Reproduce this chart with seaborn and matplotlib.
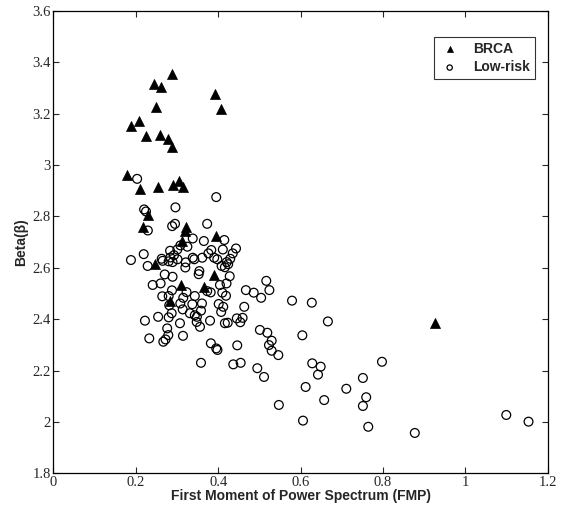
import pandas as pd
import numpy as np
import seaborn as sns
import matplotlib.pyplot as plt

# data
brca_fmp = [0.287, 0.244, 0.261, 0.392, 0.406, 0.248, 0.2075, 0.187, 0.224, 0.258,
            0.277, 0.288, 0.179, 0.210, 0.254, 0.291, 0.305, 0.314, 0.230, 0.2165,
            0.3216, 0.319, 0.394, 0.311, 0.246, 0.389, 0.309, 0.366, 0.2836, 0.926]
brca_beta = [3.354, 3.317, 3.302, 3.275, 3.219, 3.227, 3.171, 3.150, 3.111, 3.116,
             3.102, 3.071, 2.960, 2.905, 2.915, 2.922, 2.939, 2.913, 2.804, 2.757,
             2.760, 2.743, 2.724, 2.705, 2.613, 2.572, 2.533, 2.526, 2.469, 2.384]

low_fmp = [0.203, 0.395, 0.296, 0.220, 0.2245, 0.229, 0.288, 0.295, 0.373, 0.338,
           0.365, 0.4146, 0.325, 0.443, 0.411, 0.3006, 0.283, 0.383, 0.376, 0.435,
           0.2925, 0.219, 0.188, 0.390, 0.3976, 0.429, 0.361, 0.338, 0.3418, 0.301,
           0.2836, 0.2626, 0.265, 0.2796, 0.289, 0.2286, 0.321, 0.320, 0.424, 0.408,
           0.416, 0.354, 0.3524, 0.270, 0.4277, 0.5165, 0.260, 0.2408, 0.289, 0.404,
           0.467, 0.524, 0.486, 0.504, 0.579, 0.2876, 0.3815, 0.373, 0.4097, 0.264,
           0.323, 0.343, 0.4187, 0.2796, 0.315, 0.281, 0.3078, 0.337, 0.3604, 0.401,
           0.412, 0.463, 0.2869, 0.3136, 0.331, 0.358, 0.407, 0.343, 0.348, 0.254,
           0.2796, 0.445, 0.459, 0.222, 0.3476, 0.380, 0.307, 0.416, 0.4228, 0.4534,
           0.3556, 0.276, 0.501, 0.519, 0.2787, 0.3143, 0.2325, 0.272, 0.2666, 0.5296,
           0.523, 0.382, 0.446, 0.395, 0.398, 0.5296, 0.5457, 0.627, 0.666, 0.604,
           0.4947, 0.511, 0.628, 0.6485, 0.642, 0.7973, 0.612, 0.7107, 0.751, 0.759,
           0.751, 0.547, 0.657, 0.6056, 0.764, 0.877, 1.099, 1.153, 0.358, 0.4364,
           0.4543, 0.308, 0.4205, 0.420]
low_beta = [2.946, 2.875, 2.835, 2.827, 2.819, 2.745, 2.762, 2.771, 2.771, 2.714,
            2.704, 2.708, 2.682, 2.675, 2.671, 2.671, 2.666, 2.669, 2.656, 2.656,
            2.649, 2.653, 2.630, 2.639, 2.633, 2.635, 2.639, 2.639, 2.633, 2.633,
            2.640, 2.635, 2.627, 2.625, 2.622, 2.607, 2.621, 2.601, 2.614, 2.607,
            2.602, 2.587, 2.575, 2.574, 2.567, 2.549, 2.539, 2.533, 2.565, 2.533,
            2.513, 2.513, 2.503, 2.483, 2.472, 2.512, 2.504, 2.509, 2.503, 2.489,
            2.505, 2.490, 2.491, 2.490, 2.483, 2.454, 2.461, 2.458, 2.461, 2.459,
            2.448, 2.448, 2.423, 2.438, 2.423, 2.433, 2.428, 2.415, 2.409, 2.409,
            2.407, 2.403, 2.405, 2.394, 2.389, 2.394, 2.384, 2.384, 2.386, 2.388,
            2.370, 2.364, 2.358, 2.347, 2.338, 2.335, 2.325, 2.321, 2.312, 2.316,
            2.299, 2.306, 2.298, 2.286, 2.280, 2.277, 2.260, 2.464, 2.391, 2.337,
            2.209, 2.175, 2.228, 2.215, 2.184, 2.234, 2.136, 2.129, 2.171, 2.096,
            2.062, 2.066, 2.085, 2.005, 1.981, 1.957, 2.027, 2.001, 2.230, 2.224,
            2.230, 2.687, 2.622, 2.539]

x_ticks = [0, 0.2, 0.4, 0.6, 0.8, 1, 1.2]
x_ticklabels = ["0", "0.2", "0.4", "0.6", "0.8", "1", "1.2"]
y_ticks = [1.8, 2, 2.2, 2.4, 2.6, 2.8, 3, 3.2, 3.4, 3.6]
y_ticklabels = ["1.8", "2", "2.2", "2.4", "2.6", "2.8", "3", "3.2", "3.4", "3.6"]

brca = pd.DataFrame({"FMP": brca_fmp, "Beta": brca_beta})
low = pd.DataFrame({"FMP": low_fmp, "Beta": low_beta})

sns.set_style("white")
plt.rcParams["font.family"] = ["Liberation Sans", "DejaVu Sans"]

fig = plt.figure(figsize=(5.66, 5.11), dpi=100)
ax = fig.add_axes([0.0945, 0.0738, 0.8735, 0.905])

sns.scatterplot(data=brca, x="FMP", y="Beta", marker="^", s=52,
                color="black", edgecolor="black", linewidth=0.5,
                label="BRCA", ax=ax)
sns.scatterplot(data=low, x="FMP", y="Beta", marker="o", s=40,
                facecolor="none", edgecolor="black", linewidth=0.9,
                label="Low-risk", ax=ax)

ax.set_xlim(0, 1.2)
ax.set_ylim(1.8, 3.6)
ax.set_xticks(x_ticks)
ax.set_xticklabels(x_ticklabels, family="Liberation Serif", fontsize=10.5)
ax.set_yticks(y_ticks)
ax.set_yticklabels(y_ticklabels, family="Liberation Serif", fontsize=10.5)
ax.tick_params(direction="in", length=4, width=0.8, top=True, right=True,
               bottom=True, left=True, pad=2)

for sp in ax.spines.values():
    sp.set_visible(True)
    sp.set_color("black")
    sp.set_linewidth(0.9)

ax.set_xlabel("First Moment of Power Spectrum (FMP)", fontsize=10,
              fontweight="bold", labelpad=0)
ax.set_ylabel("Beta(\u03b2)", fontsize=10, fontweight="bold", labelpad=3)

leg = ax.legend(loc="upper right", bbox_to_anchor=(0.974, 0.943), frameon=True,
                fancybox=False, markerscale=0.6, handletextpad=0.9,
                prop={"weight": "bold", "size": 10}, borderpad=0.35,
                labelspacing=0.3, handlelength=1.6, borderaxespad=0)
leg.get_frame().set_edgecolor("black")
leg.get_frame().set_linewidth(0.8)

fig.savefig("out.png", dpi=100)
